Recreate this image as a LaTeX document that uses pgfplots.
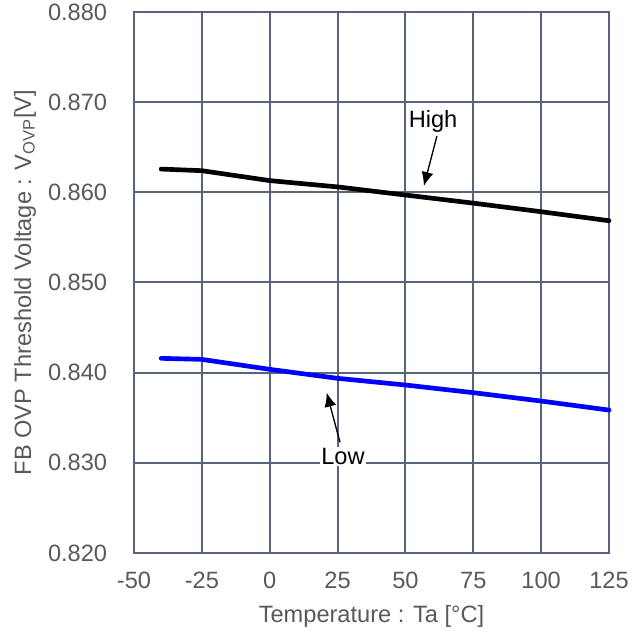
\documentclass[border=0pt]{standalone}
\usepackage{pgfplots}
\pgfplotsset{compat=1.18}
\usepackage{fontspec}
\setmainfont{Liberation Sans}
\usetikzlibrary{arrows.meta}
\definecolor{gridc}{HTML}{56657D}
\definecolor{txt}{HTML}{595959}
\newcommand{\f}{\fontsize{17.7}{20}\selectfont}
\begin{document}
\begin{tikzpicture}
\begin{axis}[
  scale only axis,
  width=356.25pt, height=405.75pt,
  xmin=-50, xmax=125, ymin=0.820, ymax=0.880,
  xtick={-50,-25,...,125},
  ytick={0.820,0.830,...,0.880},
  grid=major,
  major grid style={gridc, line width=1.5pt},
  axis line style={gridc, line width=1.5pt},
  tick style={draw=none},
  /pgf/number format/assume math mode=true,
  yticklabel style={/pgf/number format/fixed, /pgf/number format/fixed zerofill, /pgf/number format/precision=3},
  xticklabel style={/pgf/number format/fixed, text height=12.7pt, text depth=0pt},
  ticklabel style={font=\f, text=txt, inner sep=0pt},
  scaled y ticks=false,
  xticklabel shift=14pt,
  yticklabel shift=20pt,
  every axis x label/.style={at={(axis description cs:0.5,0)}, anchor=center, yshift=-47.5pt, font=\f, text=txt},
  every axis y label/.style={at={(axis description cs:0,0.5)}, anchor=center, rotate=90, yshift=81.75pt, font=\f, text=txt},
  xlabel={Temperature : Ta [°C]},
  ylabel={FB OVP Threshold Voltage : V\textsubscript{OVP}[V]},
  clip=false,
]
\addplot[black, line width=3.5pt, line cap=round, line join=round] coordinates {
  (-40,0.86258) (-25,0.86240) (0,0.86130) (25,0.86060) (50,0.85970) (75,0.85880) (100,0.85785) (125,0.85685)
};
\addplot[blue, line width=3.5pt, line cap=round, line join=round] coordinates {
  (-40,0.84159) (-25,0.84147) (0,0.84037) (25,0.83937) (50,0.83863) (75,0.83778) (100,0.83685) (125,0.83585)
};
\draw[-{Latex[length=10.5pt,width=9pt]}, line width=1pt] (axis cs:61.6,0.86624) -- (axis cs:56.8,0.8607);
\node[font=\f] at (axis cs:60.2,0.8679) {High};
\draw[-{Latex[length=10.5pt,width=9pt]}, line width=1pt] (axis cs:25.9,0.83227) -- (axis cs:21.0,0.83778);
\node[font=\f, fill=white, inner sep=1pt] at (axis cs:27.0,0.83072) {Low};
\end{axis}
\pgfresetboundingbox
\path (current axis.south west) ++(-100.5pt,-63pt) coordinate (bbA);
\path (current axis.north east) ++(25.5pt,9pt) coordinate (bbB);
\path[use as bounding box] (bbA) rectangle (bbB);
\end{tikzpicture}
\end{document}
